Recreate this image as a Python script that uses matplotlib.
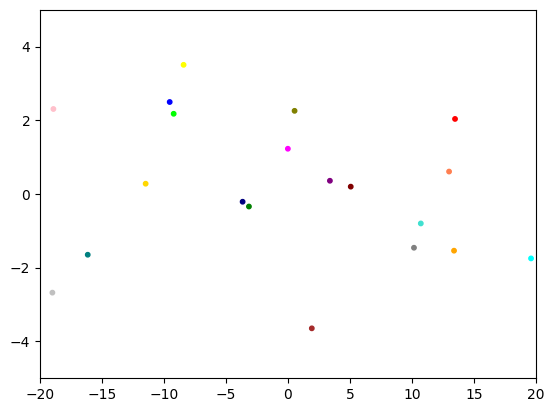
import matplotlib.pyplot as plt

xs = [-18.92, -9.54, -9.22, -8.42, -11.48, 0.53, -0.01, 3.38, 5.06, -3.66,
      -3.15, 13.47, 12.99, 10.71, 10.16, 13.39, 19.60, -16.15, -19.0, 1.92]
ys = [2.31, 2.50, 2.18, 3.51, 0.28, 2.26, 1.23, 0.36, 0.20, -0.21,
      -0.34, 2.04, 0.61, -0.80, -1.46, -1.54, -1.75, -1.65, -2.68, -3.65]
colors = ['pink', 'blue', 'lime', 'yellow', 'gold', 'olive', 'magenta', 'purple', 'maroon', 'navy',
          'green', 'red', 'coral', 'turquoise', 'gray', 'orange', 'cyan', 'teal', 'silver', 'brown']

fig, ax = plt.subplots(figsize=(5.54, 4.13), dpi=100)
fig.subplots_adjust(left=0.0722, right=0.9675, top=0.9758, bottom=0.0847)

ax.scatter(xs, ys, c=colors, s=10)

ax.set_xlim(-20, 20)
ax.set_ylim(-5, 5)

plt.savefig('out.png')
